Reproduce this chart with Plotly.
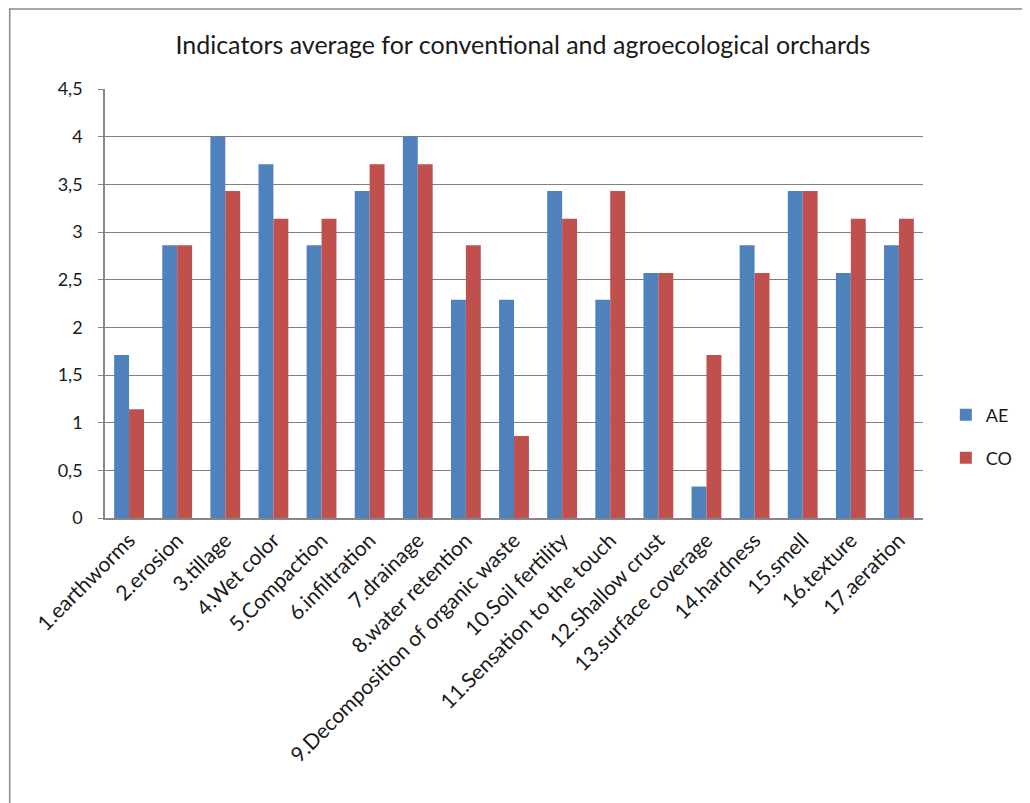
import plotly.graph_objects as go

categories = [
    "1.earthworms", "2.erosion", "3.tillage", "4.Wet color", "5.Compaction",
    "6.infiltration", "7.drainage", "8.water retention",
    "9.Decomposition of organic waste", "10.Soil fertility",
    "11.Sensation to the touch", "12.Shallow crust", "13.surface coverage",
    "14.hardness", "15.smell", "16.texture", "17.aeration",
]
ae_values = [1.71, 2.86, 4.0, 3.71, 2.86, 3.43, 4.0, 2.29, 2.29, 3.43,
             2.29, 2.57, 0.33, 2.86, 3.43, 2.57, 2.86]
co_values = [1.14, 2.86, 3.43, 3.14, 3.14, 3.71, 3.71, 2.86, 0.86, 3.14,
             3.43, 2.57, 1.71, 2.57, 3.43, 3.14, 3.14]
y_ticks = [0, 0.5, 1, 1.5, 2, 2.5, 3, 3.5, 4, 4.5]

FONT = "Lato"
OFF = 8  # page body margin
W, H = 1030 - OFF, 803 - OFF
# plot area in page pixels: x 105..929, y 89..518
L, T = 105 - OFF, 89 - OFF
R = W - (929 - OFF)
B = H - (518 - OFF)
pw, ph = W - L - R, H - T - B

def px_x(x):
    return (x - OFF - L) / pw

def px_y(y):
    return (H - B - (y - OFF)) / ph

fig = go.Figure()
fig.add_trace(go.Bar(name="AE", x=categories, y=ae_values,
                     marker=dict(color="#4F81BD", line=dict(width=0)),
                     legend="legend"))
fig.add_trace(go.Bar(name="CO", x=categories, y=co_values,
                     marker=dict(color="#C0504D", line=dict(width=0)),
                     legend="legend2"))

fig.update_layout(
    width=W, height=H,
    margin=dict(l=L, r=R, t=T, b=B, pad=0),
    paper_bgcolor="white", plot_bgcolor="white",
    separators=",.",
    showlegend=True,
    barmode="group", bargap=0.38, bargroupgap=0,
    font=dict(family=FONT, size=18, color="#1a1a1a"),
    title=dict(text="Indicators average for conventional and agroecological orchards",
               x=px_x(526), xref="paper", xanchor="center",
               y=1 - (45 - OFF) / H, yanchor="middle",
               font=dict(family=FONT, size=25, color="#1a1a1a")),
    xaxis=dict(tickangle=-45, showline=True, linecolor="#868686", linewidth=1.5,
               ticks="", showgrid=False, tickfont=dict(size=21)),
    yaxis=dict(range=[0, 4.5], tickvals=y_ticks, showline=True,
               linecolor="#868686", linewidth=1.5,
               gridcolor="#808080", gridwidth=1.4,
               ticks="outside", ticklen=5, tickcolor="#868686",
               ticklabelstandoff=12,
               tickfont=dict(size=18), zeroline=False),
    legend=dict(x=px_x(952), y=px_y(415), xanchor="left", yanchor="middle",
                font=dict(size=18), bgcolor="rgba(0,0,0,0)"),
    legend2=dict(x=px_x(952), y=px_y(458), xanchor="left", yanchor="middle",
                 font=dict(size=18), bgcolor="rgba(0,0,0,0)"),
    shapes=[dict(type="rect", xref="paper", yref="paper",
                 x0=px_x(9), x1=px_x(1080), y0=px_y(850), y1=px_y(9),
                 line=dict(color="#8a8a8a", width=1.5), layer="below")],
)

fig.write_html("out.html")
